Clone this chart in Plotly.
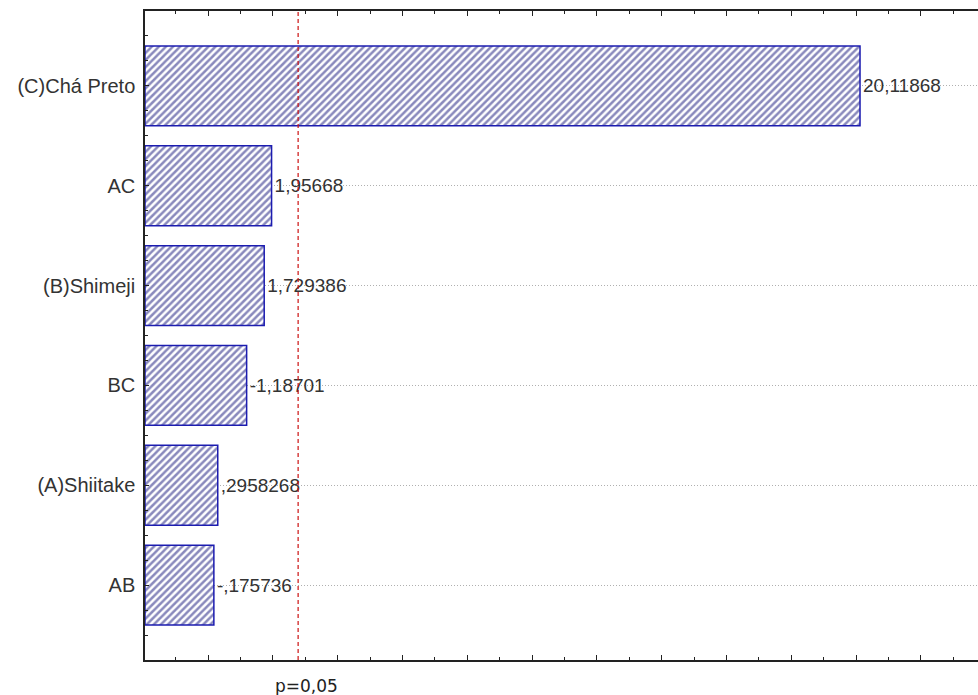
import plotly.graph_objects as go

categories = ["(C)Chá Preto", "AC", "(B)Shimeji", "BC", "(A)Shiitake", "AB"]
effects = [20.11868, 1.95668, 1.729386, -1.18701, 0.2958268, -0.175736]
p_value_line = 2.776
p_label = "p=0,05"
x_axis_range = [-1.95, 23.76]


def fmt(v):
    s = repr(v)
    if s.startswith("0."):
        s = s[1:]
    elif s.startswith("-0."):
        s = "-" + s[2:]
    return s.replace(".", ",")


x_min = x_axis_range[0]
lengths = [abs(v) for v in effects]
labels = [fmt(v) for v in effects]
ypos = list(range(len(categories)))

fig = go.Figure()
fig.add_trace(go.Bar(
    x=[L - x_min for L in lengths],
    base=[x_min] * len(lengths),
    y=ypos,
    orientation="h",
    width=0.8,
    text=labels,
    textposition="outside",
    textfont=dict(family="Liberation Sans, Arial", size=19, color="#333333"),
    cliponaxis=False,
    marker=dict(
        color="white",
        line=dict(color="#1c1cb0", width=1.5),
        pattern=dict(shape="/", fgcolor="#14147a", bgcolor="white", size=5, solidity=0.5),
    ),
    showlegend=False,
))

fig.add_shape(type="line", x0=p_value_line, x1=p_value_line, y0=0, y1=1,
              xref="x", yref="paper", line=dict(color="#cc1111", width=1.2, dash="4px,3px"))

fig.add_annotation(x=p_value_line, y=0, xref="x", yref="paper", text=p_label,
                   showarrow=False, yanchor="top", yshift=-14, xshift=8,
                   font=dict(family="DejaVu Sans", size=17, color="#222222"))

fig.update_layout(
    width=978, height=695,
    margin=dict(l=145, r=0, t=11, b=35),
    plot_bgcolor="white", paper_bgcolor="white",
    font=dict(family="Liberation Sans, Arial", size=20, color="#333333"),
)
fig.update_xaxes(
    range=x_axis_range,
    showticklabels=False,
    showgrid=False, zeroline=False,
    showline=True, linecolor="#222222", linewidth=1.5, mirror="ticks",
    ticks="inside", ticklen=5, tickcolor="#222222", dtick=2, tick0=0,
    minor=dict(ticks="inside", ticklen=3, dtick=1, tick0=0, tickcolor="#222222", showgrid=False),
)
fig.update_yaxes(
    range=[5.75, -0.75],
    tickvals=ypos, ticktext=categories,
    tickfont=dict(family="Liberation Sans, Arial", size=20, color="#333333"),
    showgrid=True, gridcolor="#b0b0b0", griddash="1px,2px", gridwidth=1,
    zeroline=False,
    showline=True, linecolor="#222222", linewidth=1.5, mirror=False,
    ticks="inside", ticklen=4, tickcolor="#222222",
    minor=dict(ticks="inside", ticklen=3, dtick=0.25, tick0=0, tickcolor="#222222", showgrid=False),
    ticklabelstandoff=4,
)

fig.write_html("out.html")
